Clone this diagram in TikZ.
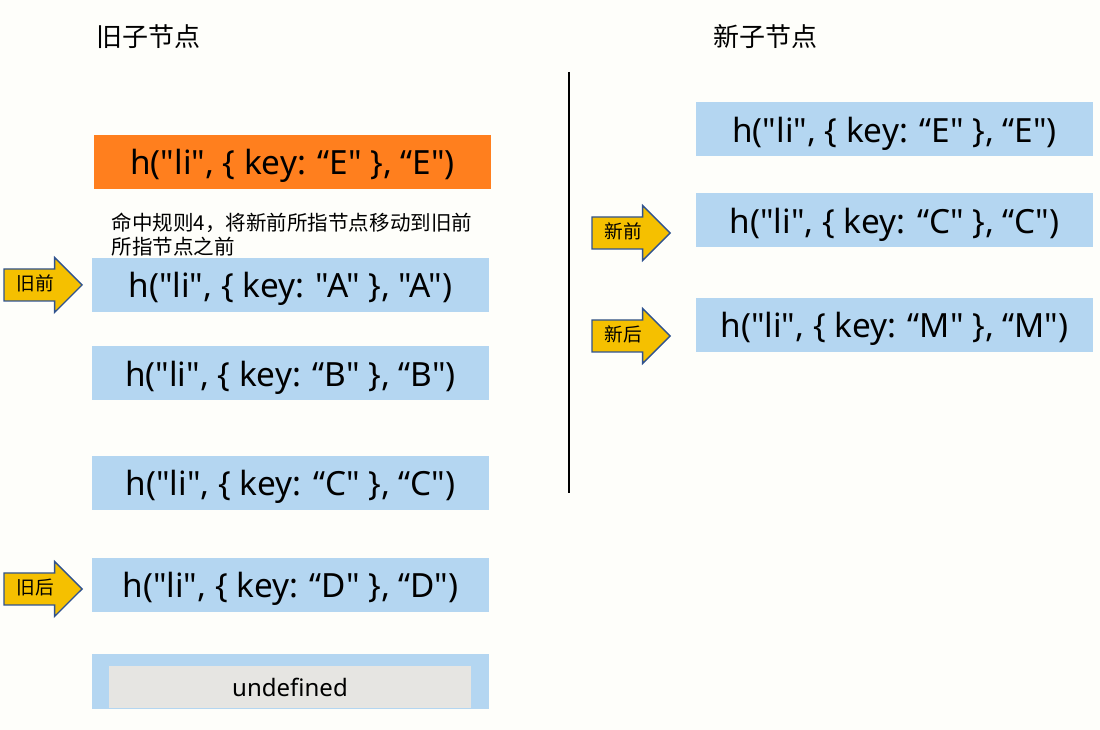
\documentclass[tikz,border=0pt]{standalone}
\usepackage{fontspec}
\setmainfont{Noto Sans}[Ligatures=TeXOff]
\newfontfamily\cjk{Noto Sans CJK SC}
\usepackage{tikz}
\usetikzlibrary{shapes.arrows}

\definecolor{bg}{HTML}{FEFEFA}
\definecolor{oldbox}{HTML}{B4D6F1}
\definecolor{hitbox}{HTML}{FF7F1E}
\definecolor{nilbox}{HTML}{E6E5E2}
\definecolor{ptrfill}{HTML}{F5C000}
\definecolor{ptrline}{HTML}{2F528F}

\tikzset{
  vnode/.style={fill=oldbox,minimum width=297.5pt,minimum height=40.5pt,inner sep=0pt,text depth=0pt,font=\fontsize{25}{30}\selectfont},
  ptr/.style={single arrow,draw=ptrline,fill=ptrfill,line width=1pt,single arrow head extend=8.6pt,anchor=tip,
    minimum height=58.5pt,text height=11pt,text depth=3pt,inner xsep=2pt,inner ysep=4.5pt,font=\cjk\fontsize{14}{16}\selectfont},
  title/.style={anchor=west,font=\cjk\fontsize{19.5}{22}\selectfont}
}

\begin{document}
\begin{tikzpicture}[x=0.75pt,y=-0.75pt]
\fill[bg] (0,0) rectangle (1100,730);

% titles
\node[title] (oldt) at (92,37) {旧子节点};
\node[title] (newt) at (709,37) {新子节点};

% divider
\coordinate (top) at (569,72);
\coordinate (bot) at (569,493);
\draw[line width=1.2pt] (top) -- (bot);

% old children
\node[vnode,fill=hitbox] (e) at (292.5,162) {h("li", \{ key: “E" \}, “E")};
\node[anchor=west,align=left,font=\cjk\fontsize{15.4}{18}\selectfont] (note) at (107,235)
  {命中规则4，将新前所指节点移动到旧前\\所指节点之前};
\node[vnode] (a) at (290.5,285) {h("li", \{ key: "A" \}, "A")};
\node[vnode] (b) at (290.5,373.5) {h("li", \{ key: “B" \}, “B")};
\node[vnode] (c) at (290.5,483) {h("li", \{ key: “C" \}, “C")};
\node[vnode] (d) at (290.5,585) {h("li", \{ key: “D" \}, “D")};
\node[vnode] (u) at (290.5,681.5) {};
\node[fill=nilbox,minimum width=271.5pt,minimum height=31.5pt,inner sep=0pt,font=\fontsize{18}{20}\selectfont] (nil) at (290,687) {undefined};

% new children
\node[vnode] (e2) at (894.5,129.5) {h("li", \{ key: “E" \}, “E")};
\node[vnode] (c2) at (894.5,220.5) {h("li", \{ key: “C" \}, “C")};
\node[vnode] (m2) at (894.5,325) {h("li", \{ key: “M" \}, “M")};

% pointers
\node[ptr] (oldstart) at (83,285) {旧前};
\node[ptr] (oldend) at (83,589) {旧后};
\node[ptr] (newstart) at (671,233) {新前};
\node[ptr] (newend) at (671,336) {新后};
\end{tikzpicture}
\end{document}
